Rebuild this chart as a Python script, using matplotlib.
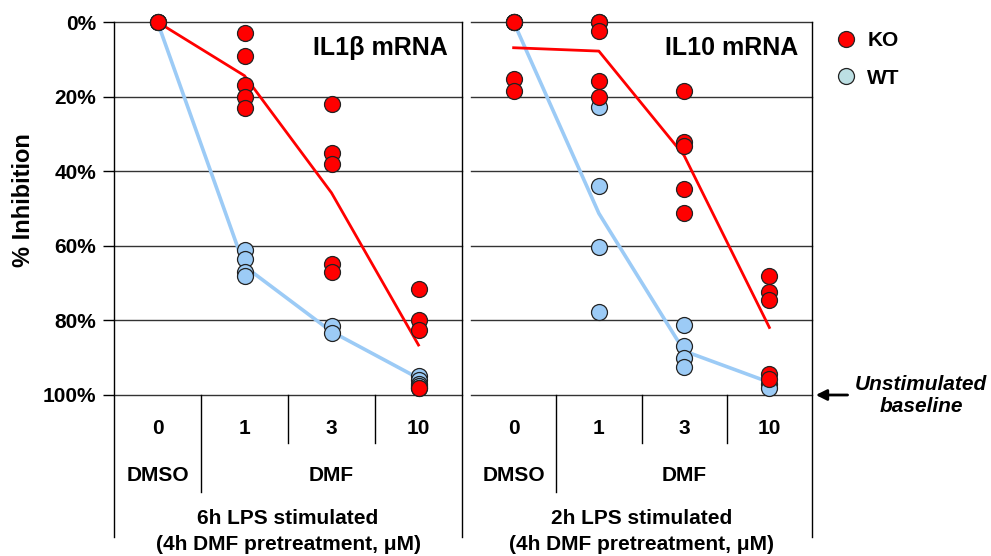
import numpy as np
import matplotlib
matplotlib.use('Agg')
import matplotlib.pyplot as plt
from matplotlib.lines import Line2D

plt.rcParams['font.family'] = ['Liberation Sans', 'DejaVu Sans']
plt.rcParams['font.weight'] = 'bold'

# DMF dose categories (uM), 0 = DMSO vehicle
doses = ['0', '1', '3', '10']
pct_ticks = [0, 20, 40, 60, 80, 100]

# IL1b mRNA, % inhibition, individual animals per dose
il1b_ko = [[0, 0], [3, 9, 17, 20, 23], [22, 35, 38, 65, 67], [71.5, 80, 82.5, 98, 98]]
il1b_wt = [[0], [61, 63.5, 67, 68], [81.5, 83.5], [95, 96, 97, 97.5]]
il1b_ko_mean = [0, 14.4, 45.8, 86.6]
il1b_wt_mean = [0, 65.5, 83, 95.5]

# IL10 mRNA
il10_ko = [[0, 0, 0, 15.3, 18.5], [0, 0, 2.5, 15.8, 20.1], [18.5, 32.2, 33.3, 44.8, 51.1],
           [68, 72.5, 74.4, 94.4, 95.7]]
il10_wt = [[0], [22.9, 43.9, 60.2, 77.7], [81.3, 86.9, 90, 92.6], [97, 98]]
il10_ko_mean = [6.9, 7.8, 35.8, 81.9]
il10_wt_mean = [0, 51.3, 88.2, 96.6]

ko_col = '#ff0000'
wt_col = '#9ccbf6'
wt_legend_col = '#bcdfe3'
edge = '#222222'

fig = plt.figure(figsize=(9.91, 5.56), dpi=100)
ax1 = fig.add_axes([114/991, 1-395/556, 348/991, 373/556])
ax2 = fig.add_axes([471/991, 1-395/556, 341/991, 373/556])


def draw_panel(ax, title, ko, wt, ko_mean, wt_mean, stim):
    x = np.arange(len(doses))
    for v in pct_ticks:
        ax.axhline(v, color='#333333', lw=1, zorder=1, clip_on=False)
    ax.plot(x, wt_mean, color=wt_col, lw=2.6, zorder=2, clip_on=False)
    ax.plot(x, ko_mean, color=ko_col, lw=2, zorder=2, clip_on=False)
    for i in x:
        ax.scatter(np.full(len(wt[i]), i), wt[i], s=132, color=wt_col,
                   edgecolor=edge, lw=0.9, zorder=3, clip_on=False)
    for i in x:
        ax.scatter(np.full(len(ko[i]), i), ko[i], s=132, color=ko_col,
                   edgecolor=edge, lw=0.9, zorder=4, clip_on=False)
    ax.set_xlim(-0.5, 3.5)
    ax.set_ylim(100, 0)
    ax.set_xticks([])
    for s in ax.spines.values():
        s.set_visible(False)
    ax.text(0.96, 0.93, title, transform=ax.transAxes, ha='right', va='center', fontsize=18)

    # category table under the plot
    tr = ax.get_xaxis_transform()
    ax.plot([0.5, 0.5], [0, -0.2601], transform=tr, color='black', lw=1, clip_on=False)
    for xv in [1.5, 2.5]:
        ax.plot([xv, xv], [0, -0.1287], transform=tr, color='black', lw=1, clip_on=False)
    ax.plot([3.5, 3.5], [1, -0.3807], transform=tr, color='black', lw=1, clip_on=False)
    for i, d in enumerate(doses):
        ax.text(i, -0.0885, d, transform=tr, ha='center', va='center', fontsize=15)
    ax.text(0, -0.2145, 'DMSO', transform=tr, ha='center', va='center', fontsize=15)
    ax.text(2, -0.2145, 'DMF', transform=tr, ha='center', va='center', fontsize=15)
    ax.text(0.5, -0.3324, stim, transform=ax.transAxes, ha='center', va='center', fontsize=15)
    ax.text(0.5, -0.3995, '(4h DMF pretreatment, \u03bcM)', transform=ax.transAxes,
            ha='center', va='center', fontsize=15)


draw_panel(ax1, 'IL1\u03b2 mRNA', il1b_ko, il1b_wt, il1b_ko_mean, il1b_wt_mean, '6h LPS stimulated')
draw_panel(ax2, 'IL10 mRNA', il10_ko, il10_wt, il10_ko_mean, il10_wt_mean, '2h LPS stimulated')

# left border of first panel
ax1.plot([-0.5, -0.5], [1, -0.3807], transform=ax1.get_xaxis_transform(),
         color='black', lw=1, clip_on=False)

ax1.set_yticks(pct_ticks)
ax1.set_yticklabels([f'{v}%' for v in pct_ticks])
ax1.tick_params(axis='y', length=8, width=1, pad=5, labelsize=15, direction='out')
ax2.set_yticks(pct_ticks)
ax2.tick_params(axis='y', left=False, labelleft=False)

fig.text(24/991, 1-200/556, '% Inhibition', rotation=90, ha='center', va='center', fontsize=17)

handles = [Line2D([], [], marker='o', ls='', markersize=11.5, mfc=ko_col, mec=edge, mew=0.9),
           Line2D([], [], marker='o', ls='', markersize=11.5, mfc=wt_legend_col, mec=edge, mew=0.9)]
fig.legend(handles, ['KO', 'WT'], loc='upper left', bbox_to_anchor=(836/991, 1-31/556),
           frameon=False, fontsize=15, handlelength=1, handletextpad=0.5,
           labelspacing=0.9, borderpad=0, borderaxespad=0)

ax2.annotate('', xy=(3.512, 100), xytext=(3.95, 100), annotation_clip=False,
             arrowprops=dict(arrowstyle='-|>', color='black', lw=2, mutation_scale=16))
fig.text(921/991, 1-395.5/556, 'Unstimulated\nbaseline', ha='center', va='center',
         fontsize=15, style='italic', linespacing=1.2)

fig.savefig('out.png', dpi=100)
